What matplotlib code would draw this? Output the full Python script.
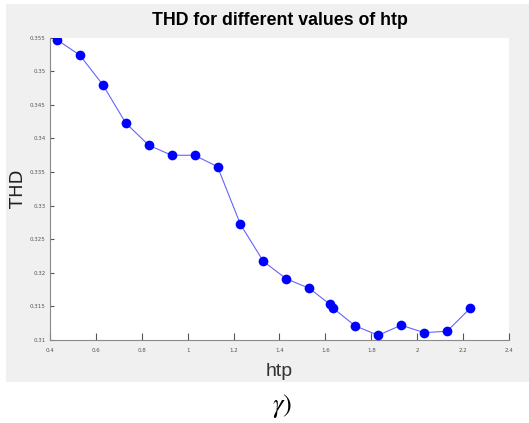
import numpy as np
import matplotlib.pyplot as plt
from matplotlib.patches import Rectangle
from matplotlib.ticker import FormatStrFormatter

# 数据
htp = [0.43, 0.53, 0.63, 0.73, 0.83, 0.93, 1.03, 1.13, 1.23, 1.33,
       1.43, 1.53, 1.62, 1.635, 1.73, 1.83, 1.93, 2.03, 2.13, 2.23]
thd = [0.3547, 0.3524, 0.3480, 0.3423, 0.3390, 0.3375, 0.3375, 0.3358, 0.3272, 0.3217,
       0.3191, 0.3177, 0.3153, 0.3147, 0.3121, 0.3107, 0.3122, 0.3111, 0.3113, 0.3147]

xticks = [0.4, 0.6, 0.8, 1.0, 1.2, 1.4, 1.6, 1.8, 2.0, 2.2, 2.4]
yticks = [0.31, 0.315, 0.32, 0.325, 0.33, 0.335, 0.34, 0.345, 0.35, 0.355]

W, H = 529, 423
fig = plt.figure(figsize=(W / 100, H / 100), dpi=100)
fig.patch.set_facecolor('white')

# MATLAB风格的灰色背景
fig.patches.append(Rectangle((6 / W, (H - 382) / H), (W - 6) / W, (382 - 4) / H,
                             transform=fig.transFigure, facecolor='#f0f0f0',
                             edgecolor='none', zorder=-10))

ax = fig.add_axes([50 / W, (H - 340) / H, (509 - 50) / W, (340 - 37.7) / H])
ax.set_facecolor('white')

ax.plot(htp, thd, color='#6464ff', linewidth=0.8, zorder=2)
ax.plot(htp, thd, 'o', color='#0000ff', markersize=7, markeredgewidth=0, zorder=3)

ax.set_xlim(0.4, 2.4)
ax.set_ylim(0.31, 0.355)
ax.set_xticks(xticks)
ax.set_yticks(yticks)
ax.xaxis.set_major_formatter(FormatStrFormatter('%g'))
ax.yaxis.set_major_formatter(FormatStrFormatter('%g'))

for side in ['top', 'right']:
    ax.spines[side].set_visible(False)
for side in ['left', 'bottom']:
    ax.spines[side].set_color('#8a8a8a')
    ax.spines[side].set_linewidth(0.8)

ax.tick_params(axis='both', direction='in', labelsize=4, colors='#555555', width=0.8)
ax.tick_params(axis='x', length=5, pad=6)
ax.tick_params(axis='y', length=3, pad=3)

ax.set_title('THD for different values of htp', fontsize=12.8, fontweight='bold',
             family='Liberation Sans', pad=9)
ax.set_ylabel('THD', fontsize=13, family='DejaVu Sans', color='#222222')
ax.yaxis.set_label_coords(-0.05, 0.5)
ax.set_xlabel('htp', fontsize=14, family='Liberation Sans', color='#333333', labelpad=7)

plt.rcParams['mathtext.fontset'] = 'stix'
fig.text(282 / W, 1 - 406 / H, r'$\gamma$)', fontsize=19, family='STIXGeneral',
         ha='center', va='center')

plt.savefig('out.png', dpi=100)
plt.close()
